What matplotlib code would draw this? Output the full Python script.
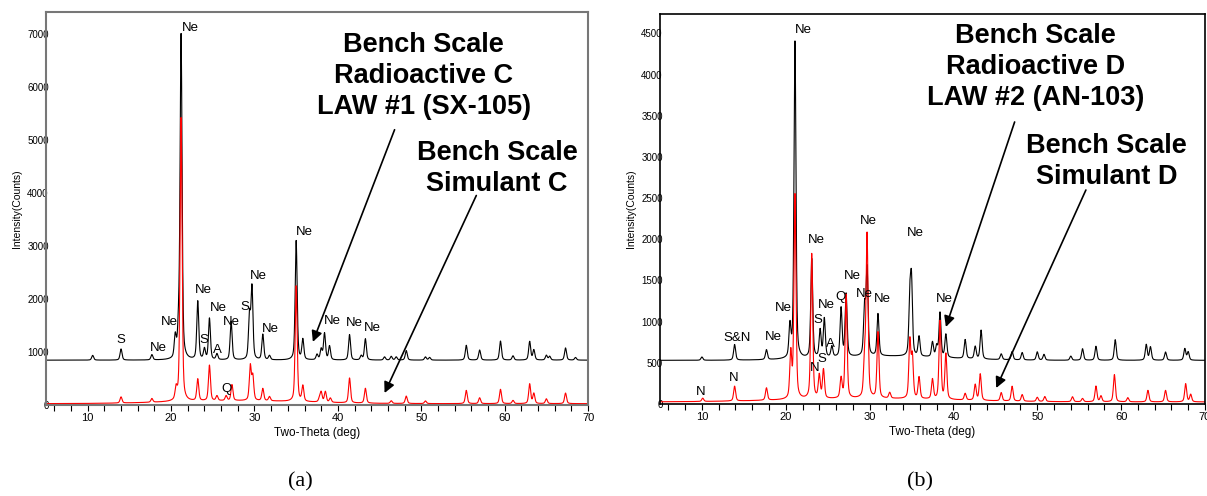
import numpy as np
import matplotlib
matplotlib.use("Agg")
import matplotlib.pyplot as plt

plt.rcParams['font.family'] = ['Liberation Sans', 'DejaVu Sans']

# two-theta grid
tt = np.arange(5, 70.0001, 0.02)

# ---- panel (a) peak tables (position deg, net height counts) ----
radc_pos = [10.6, 14.0, 17.7, 20.5, 20.9, 21.2, 23.2, 24.0, 24.6, 25.5, 27.2, 29.4, 29.7, 31.0, 31.8,
            35.0, 35.8, 37.5, 38.0, 38.4, 39.0, 41.4, 42.8, 43.3, 45.6, 46.4, 47.0, 48.2, 50.5, 51.0,
            55.4, 57.0, 59.5, 61.0, 63.0, 63.5, 65.0, 65.4, 67.3, 68.5]
radc_hgt = [90, 210, 100, 400, 480, 6100, 1100, 200, 780, 110, 730, 820, 1350, 480, 80,
            2250, 380, 100, 200, 500, 260, 480, 80, 400, 60, 70, 60, 180, 60, 50,
            280, 190, 360, 80, 350, 190, 90, 70, 230, 50]
radc_bg = 845

simc_pos = [14.0, 17.7, 20.6, 21.2, 23.2, 24.6, 25.5, 26.6, 27.3, 29.5, 29.8, 31.0, 31.8,
            35.0, 35.8, 37.8, 38.0, 38.5, 39.1, 41.4, 43.3, 46.4, 48.2, 50.5,
            55.4, 57.0, 59.5, 61.0, 63.0, 63.5, 65.0, 67.3]
simc_hgt = [115, 70, 210, 5350, 410, 670, 90, 90, 300, 650, 450, 230, 80,
            2180, 290, 70, 180, 200, 80, 470, 280, 50, 140, 50,
            250, 110, 270, 60, 370, 190, 90, 200]
simc_bg = 25
simc_hump = [(28.0, 55, 8.0)]

# ---- panel (b) peak tables ----
radd_pos = [10.0, 13.9, 17.7, 20.5, 21.1, 23.1, 24.1, 24.6, 25.5, 26.6, 27.2, 29.4, 29.7, 31.0,
            34.8, 35.0, 35.9, 37.5, 38.0, 38.4, 39.1, 41.4, 42.6, 43.3, 45.7, 47.0, 48.2,
            50.0, 50.8, 54.0, 55.4, 57.0, 59.3, 63.0, 63.5, 65.3, 67.6, 68.0]
radd_hgt = [40, 190, 120, 380, 3850, 1200, 330, 470, 130, 590, 760, 580, 1050, 510,
            650, 850, 240, 180, 130, 540, 280, 230, 150, 350, 70, 100, 90,
            100, 70, 50, 140, 170, 250, 190, 160, 100, 140, 100]
radd_bg = 530
radd_hump = [(32.0, 50, 7.0)]

simd_pos = [10.1, 13.9, 17.7, 20.6, 21.1, 23.1, 24.0, 24.5, 26.6, 27.2, 29.4, 29.7, 31.0, 32.4,
            34.8, 35.1, 35.9, 37.5, 38.4, 39.1, 41.4, 42.6, 43.2, 45.7, 47.0, 48.2,
            50.0, 50.9, 54.2, 55.4, 57.0, 57.6, 59.2, 60.8, 63.2, 65.3, 67.7, 68.3]
simd_hgt = [40, 180, 150, 550, 2480, 1760, 280, 350, 240, 1260, 440, 1970, 800, 70,
            700, 500, 260, 240, 950, 550, 80, 190, 320, 100, 180, 80,
            50, 60, 60, 40, 190, 70, 330, 50, 140, 140, 220, 90]
simd_bg = 25
simd_hump = [(30.0, 40, 10.0)]


def pattern(pos, hgt, bg, humps=(), w=0.14):
    y = np.full_like(tt, float(bg))
    for p, h in zip(pos, hgt):
        d = (tt - p) / w
        y += h * (0.55 * np.exp(-np.log(2) * d ** 2) + 0.45 / (1 + d ** 2))
    for p, h, s in humps:
        y += h * np.exp(-0.5 * ((tt - p) / s) ** 2)
    return y


fig = plt.figure(figsize=(12.07, 4.96), dpi=100)
ax1 = fig.add_axes([0.0381, 0.1835, 0.4491, 0.7923])
ax2 = fig.add_axes([0.5468, 0.1855, 0.4515, 0.7863])

ax1.plot(tt, pattern(radc_pos, radc_hgt, radc_bg), color='black', lw=0.8)
ax1.plot(tt, pattern(simc_pos, simc_hgt, simc_bg, simc_hump), color='red', lw=0.8)
ax2.plot(tt, pattern(radd_pos, radd_hgt, radd_bg, radd_hump), color='black', lw=0.8)
ax2.plot(tt, pattern(simd_pos, simd_hgt, simd_bg, simd_hump), color='red', lw=0.8)

ax1.set_ylim(0, 7410)
ax1.set_yticks(range(0, 7001, 1000))
ax2.set_ylim(0, 4735)
ax2.set_yticks(range(0, 4501, 500))

for ax in (ax1, ax2):
    ax.set_xlim(5, 70)
    ax.set_xticks(range(10, 71, 10))
    ax.set_xticks(range(6, 70, 2), minor=True)
    ax.tick_params(axis='x', which='both', direction='out', length=4, width=0.8, labelsize=8, pad=2)
    ax.tick_params(axis='y', length=0, labelsize=7, pad=-2)
    ax.set_xlabel('Two-Theta (deg)', fontsize=8.5, labelpad=3)
    ax.set_ylabel('Intensity(Counts)', fontsize=7.5, labelpad=4)

for s in ax1.spines.values():
    s.set_color('#777777')
    s.set_linewidth(1.5)
for s in ax2.spines.values():
    s.set_color('black')
    s.set_linewidth(1.2)

# phase labels
lab_a = [('Ne', 22.3, 7100), ('Ne', 36.0, 3260), ('S', 14.0, 1230), ('Ne', 18.5, 1075),
         ('Ne', 19.8, 1566), ('Ne', 23.9, 2170), ('S', 23.9, 1226), ('Ne', 25.7, 1830),
         ('A', 25.5, 1040), ('Ne', 27.2, 1566), ('S', 28.9, 1850), ('Ne', 30.5, 2434),
         ('Ne', 31.9, 1434), ('Q', 26.7, 300), ('Ne', 39.4, 1585), ('Ne', 42.0, 1547),
         ('Ne', 44.1, 1453)]
lab_b = [('Ne', 22.1, 4540), ('Ne', 23.6, 1991), ('Ne', 29.8, 2222), ('Ne', 35.5, 2076),
         ('S&N', 14.2, 801), ('Ne', 18.5, 813), ('Ne', 19.7, 1165), ('S', 23.8, 1020),
         ('Ne', 24.9, 1202), ('A', 25.3, 728), ('Q', 26.5, 1300), ('Ne', 28.0, 1554),
         ('Ne', 29.4, 1335), ('Ne', 31.5, 1275), ('Ne', 38.9, 1275), ('N', 23.5, 437),
         ('S', 24.3, 546), ('N', 9.9, 146), ('N', 13.8, 316)]
for t, x, y in lab_a:
    ax1.text(x, y, t, fontsize=9.5, ha='center', va='center')
for t, x, y in lab_b:
    ax2.text(x, y, t, fontsize=9.5, ha='center', va='center')

# sample names and arrows
big = dict(fontsize=19.5, fontweight='bold', ha='center', va='center', linespacing=1.25)
ax1.text(50.3, 6200, 'Bench Scale\nRadioactive C\nLAW #1 (SX-105)', **big)
ax1.text(59.1, 4450, 'Bench Scale\nSimulant C', **big)
ax2.text(49.8, 4091, 'Bench Scale\nRadioactive D\nLAW #2 (AN-103)', **big)
ax2.text(58.3, 2938, 'Bench Scale\nSimulant D', **big)

arr = dict(arrowstyle='-|>', color='black', lw=1.2, mutation_scale=16, shrinkA=0, shrinkB=0)
ax1.annotate('', xy=(37.0, 1190), xytext=(46.8, 5190), arrowprops=arr)
ax1.annotate('', xy=(45.6, 226), xytext=(56.6, 3950), arrowprops=arr)
ax2.annotate('', xy=(39.1, 935), xytext=(47.3, 3424), arrowprops=arr)
ax2.annotate('', xy=(45.1, 194), xytext=(55.8, 2598), arrowprops=arr)

fig.text(300 / 1207, 1 - 482 / 496, '(a)', fontsize=16, family='Liberation Serif', ha='center', va='center')
fig.text(920 / 1207, 1 - 482 / 496, '(b)', fontsize=16, family='Liberation Serif', ha='center', va='center')

fig.savefig('out.png', dpi=100)
